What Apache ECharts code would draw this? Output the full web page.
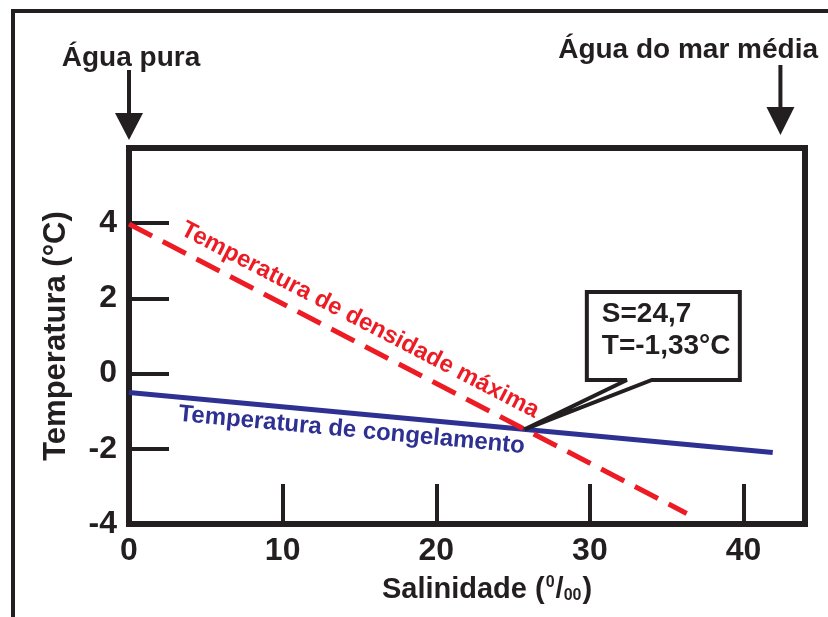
<!DOCTYPE html>
<html><head><meta charset="utf-8">
<script src="https://cdn.jsdelivr.net/npm/echarts@6/dist/echarts.min.js"></script>
<style>html,body{margin:0;padding:0;background:#fff}#c{width:828px;height:617px}</style>
</head><body><div id="c"></div>
<script>
// ---- data ----
const salinityMaxDensity = [0, 36.3];
const tempMaxDensity = [3.98, -3.72];
const salinityFreezing = [0, 41.9];
const tempFreezing = [-0.5, -2.1];
const xTickLabels = [0, 10, 20, 30, 40];
const yTickLabels = [-4, -2, 0, 2, 4];
const seriesNames = ['Temperatura de densidade máxima', 'Temperatura de congelamento'];
const seriesLabelSalinity = [14.4, 14.6];
const markerSalinity = [0, 42.4];
const markerLabels = ['Água pura', 'Água do mar média'];
const calloutLines = ['S=24,7', 'T=-1,33°C'];
const calloutAnchor = [29.8, 2.17];

const BLACK = '#231f20', RED = '#ed1c24', BLUE = '#2e3192';
const FONT = '"Liberation Sans", Arial, Helvetica, sans-serif';

const chart = echarts.init(document.getElementById('c'), null, {renderer: 'canvas'});
const txt = (size) => ({fontFamily: FONT, fontWeight: 'bold', fontSize: size, color: BLACK});

chart.setOption({
  animation: false,
  backgroundColor: '#fff',
  grid: {left: 129, right: 23, top: 148, bottom: 93, show: true, borderColor: BLACK, borderWidth: 6, backgroundColor: 'transparent'},
  xAxis: {
    type: 'value', min: 0, max: 44, interval: 10,
    axisLine: {show: true, onZero: false, lineStyle: {color: BLACK, width: 6}},
    axisTick: {show: true, inside: true, length: 40, lineStyle: {color: BLACK, width: 4}},
    axisLabel: Object.assign(txt(32), {margin: 11, formatter: v => xTickLabels.includes(v) ? String(v) : ''}),
    splitLine: {show: false},
    name: '{a|Salinidade (}{sup|0}{b|/}{sub|00}{a|)}',
    nameLocation: 'middle', nameGap: 51,
    nameTextStyle: Object.assign(txt(29), {
      padding: [0, 0, 0, 40],
      rich: {
        a: txt(29), b: txt(29),
        sup: Object.assign(txt(16), {verticalAlign: 'top', padding: [0, 1, 0, 1]}),
        sub: Object.assign(txt(16), {verticalAlign: 'bottom', padding: [0, 1, 0, 0]})
      }
    })
  },
  yAxis: {
    type: 'value', min: -4, max: 6, interval: 2,
    axisLine: {show: true, onZero: false, lineStyle: {color: BLACK, width: 6}},
    axisTick: {show: true, inside: true, length: 40, lineStyle: {color: BLACK, width: 4}},
    axisLabel: Object.assign(txt(32), {margin: 12, formatter: v => yTickLabels.includes(v) ? String(v) : ''}),
    splitLine: {show: false},
    name: 'Temperatura (°C)', nameLocation: 'middle', nameRotate: 90, nameGap: 57,
    nameTextStyle: txt(31)
  },
  series: [
    {name: seriesNames[0], type: 'line', symbol: 'none', z: 4,
     data: salinityMaxDensity.map((s, i) => [s, tempMaxDensity[i]]),
     lineStyle: {color: RED, width: 5, type: [26, 12]}},
    {name: seriesNames[1], type: 'line', symbol: 'none', z: 3,
     data: salinityFreezing.map((s, i) => [s, tempFreezing[i]]),
     lineStyle: {color: BLUE, width: 5}}
  ]
});

const P = pt => chart.convertToPixel({gridIndex: 0}, pt);
const lerp = (xs, ys, s) => ys[0] + (ys[1] - ys[0]) * (s - xs[0]) / (xs[1] - xs[0]);

// intersection of the two lines (data space)
const mR = (tempMaxDensity[1] - tempMaxDensity[0]) / (salinityMaxDensity[1] - salinityMaxDensity[0]);
const mB = (tempFreezing[1] - tempFreezing[0]) / (salinityFreezing[1] - salinityFreezing[0]);
const sI = (tempFreezing[0] - tempMaxDensity[0]) / (mR - mB);
const tI = tempMaxDensity[0] + mR * sI;

const g = [];
// outer frame
g.push({type: 'polyline', shape: {points: [[13, 617], [13, 11], [828, 11]]}, style: {stroke: BLACK, lineWidth: 4, fill: null}});

// arrows + labels
const arrowLay = [{top: 70, head: 113, tip: 140, lx: null, ly: 58}, {top: 65, head: 107, tip: 135, lx: 818, ly: 50}];
markerSalinity.forEach((s, i) => {
  const x = P([s, 0])[0];
  const L = arrowLay[i];
  g.push({type: 'line', shape: {x1: x, y1: L.top, x2: x, y2: L.head + 2}, style: {stroke: BLACK, lineWidth: 4}});
  g.push({type: 'polygon', shape: {points: [[x - 14, L.head], [x + 14, L.head], [x, L.tip]]}, style: {fill: BLACK}});
  g.push({type: 'text', x: i === 0 ? x + 2 : L.lx, y: L.ly,
    style: {text: markerLabels[i], fill: BLACK, fontFamily: FONT, fontWeight: 'bold', fontSize: 28,
            align: i === 0 ? 'center' : 'right', verticalAlign: 'middle'}});
});

// series labels along lines
function lineLabel(xs, ys, s, text, color, offset) {
  const a0 = P([xs[0], ys[0]]), a1 = P([xs[1], ys[1]]);
  const ang = Math.atan2(a1[1] - a0[1], a1[0] - a0[0]);
  const p = P([s, lerp(xs, ys, s)]);
  const nx = Math.sin(ang), ny = -Math.cos(ang);
  g.push({type: 'text', x: p[0] + offset * nx, y: p[1] + offset * ny, rotation: -ang, z: 10,
    style: {text, fill: color, fontFamily: FONT, fontWeight: 'bold', fontSize: 24, align: 'center', verticalAlign: 'middle'}});
}
lineLabel(salinityMaxDensity, tempMaxDensity, seriesLabelSalinity[0], seriesNames[0], RED, 21);
lineLabel(salinityFreezing, tempFreezing, seriesLabelSalinity[1], seriesNames[1], BLUE, -17);

// callout
const tl = P(calloutAnchor), tip = P([sI, tI]);
const W = 153, H = 88, Lx = tl[0], Ty = tl[1];
g.push({type: 'polygon', z: 20,
  shape: {points: [[Lx, Ty], [Lx + W, Ty], [Lx + W, Ty + H], [Lx + 65, Ty + H], tip, [Lx + 40, Ty + H], [Lx, Ty + H]]},
  style: {fill: '#fff', stroke: BLACK, lineWidth: 4, lineJoin: 'miter', miterLimit: 4}});
g.push({type: 'text', x: Lx + 15, y: Ty + 6, z: 21,
  style: {text: calloutLines.join('\n'), fill: BLACK, fontFamily: FONT, fontWeight: 'bold', fontSize: 28, lineHeight: 32, align: 'left', verticalAlign: 'top'}});

chart.setOption({graphic: g});
</script>
</body></html>
